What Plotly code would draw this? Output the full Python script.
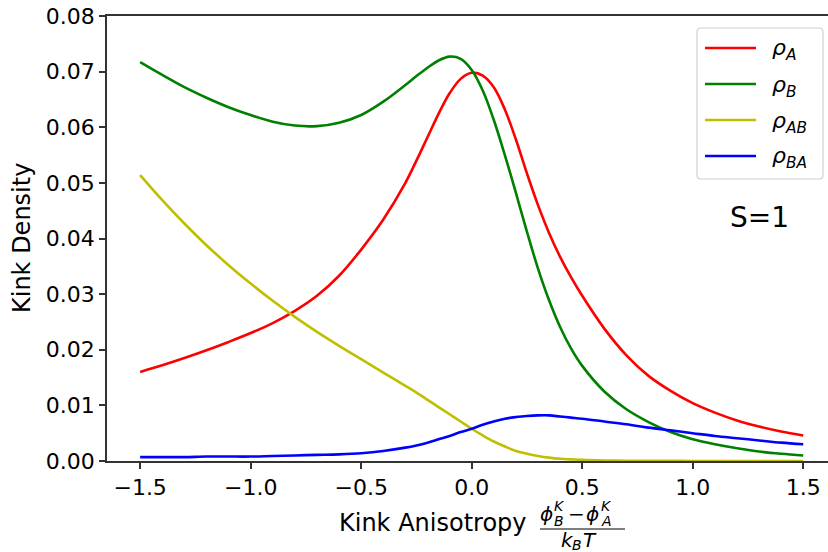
import plotly.graph_objects as go

# Kink anisotropy values (x axis); finer sampling around the peaks
anisotropy = [-1.5, -1.4, -1.3, -1.2, -1.1, -1.0, -0.9, -0.8, -0.7, -0.6, -0.5, -0.4,
              -0.3, -0.25, -0.2, -0.15, -0.1, -0.05, 0.0, 0.05, 0.1, 0.15, 0.2, 0.25,
              0.3, 0.35, 0.4, 0.45, 0.5,
              0.6, 0.7, 0.8, 0.9, 1.0, 1.1, 1.2, 1.3, 1.4, 1.5]

rho_A = [0.0160, 0.0172, 0.0185, 0.0199, 0.0214, 0.0230, 0.0248, 0.0270, 0.0297, 0.0333, 0.0380, 0.0434,
         0.0500, 0.0540, 0.0582, 0.0624, 0.0661, 0.0687, 0.0698, 0.0693, 0.0672, 0.0632, 0.0578, 0.0517,
         0.0460, 0.0410, 0.0367, 0.0330, 0.0297,
         0.0238, 0.0190, 0.0153, 0.0126, 0.0104, 0.0087, 0.0073, 0.0062, 0.0053, 0.0046]

rho_B = [0.0717, 0.0694, 0.0672, 0.0653, 0.0636, 0.0622, 0.0610, 0.0603, 0.0602, 0.0608, 0.0622, 0.0646,
         0.0676, 0.0692, 0.0707, 0.0720, 0.0727, 0.0723, 0.0703, 0.0666, 0.0613, 0.0550, 0.0482, 0.0412,
         0.0346, 0.0289, 0.0241, 0.0202, 0.0171,
         0.0125, 0.0093, 0.0070, 0.0052, 0.0039, 0.0030, 0.0023, 0.0017, 0.0013, 0.0010]

rho_AB = [0.0514, 0.0469, 0.0427, 0.0388, 0.0352, 0.0319, 0.0288, 0.0259, 0.0232, 0.0207, 0.0183, 0.0159,
          0.0135, 0.0123, 0.0110, 0.0097, 0.0084, 0.0071, 0.0058, 0.0046, 0.0035, 0.0026, 0.0018, 0.0013,
          0.0009, 0.0006, 0.0004, 0.0003, 0.0002,
          0.0001, 0.00005, 0.00003, 0.00002, 0.00001, 0.00001, 0.0, 0.0, 0.0, 0.0]

rho_BA = [0.0007, 0.0007, 0.0007, 0.0008, 0.0008, 0.0008, 0.0009, 0.0010, 0.0011, 0.0012, 0.0014, 0.0018,
          0.0024, 0.0028, 0.0033, 0.0039, 0.0045, 0.0052, 0.0058, 0.0065, 0.0071, 0.0076, 0.0079, 0.0081,
          0.0082, 0.0082, 0.0080, 0.0078, 0.0076,
          0.0071, 0.0066, 0.0060, 0.0055, 0.0050, 0.0045, 0.0041, 0.0037, 0.0033, 0.0030]

series_names = ["A", "B", "AB", "BA"]
series_values = [rho_A, rho_B, rho_AB, rho_BA]
series_colors = ["#FF0000", "#008000", "#BFBF00", "#0000FF"]

x_ticks = [-1.5, -1.0, -0.5, 0.0, 0.5, 1.0, 1.5]
y_ticks = [0.00, 0.01, 0.02, 0.03, 0.04, 0.05, 0.06, 0.07, 0.08]

FONT = "DejaVu Sans"
W, H = 828, 552
L, R, T, B = 107, 828, 16, 461


def px(x):
    return (x - L) / (R - L)


def py(y):
    return (B - y) / (B - T)


fig = go.Figure()
for name, vals, col in zip(series_names, series_values, series_colors):
    fig.add_trace(go.Scatter(
        x=anisotropy, y=vals, mode="lines", name="ρ" + name,
        line=dict(color=col, width=2.6, shape="spline", smoothing=1.0),
        showlegend=False,
    ))

annotations = []
shapes = []


def text(s, x, y, size, xanchor="left", yanchor="middle", angle=0):
    annotations.append(dict(
        text=s, x=px(x), y=py(y), xref="paper", yref="paper",
        xanchor=xanchor, yanchor=yanchor, showarrow=False, textangle=angle,
        font=dict(family=FONT, size=size, color="black"), borderpad=0,
    ))


# Axis titles
text("Kink Density", 22, 238, 24, xanchor="center", angle=-90)
text("Kink Anisotropy", 433, 523, 24, xanchor="center")

# Fraction (phi_B^K - phi_A^K) / (k_B T)
text("<i>ϕ</i>", 539, 514, 20)
text("<i>K</i>", 553, 506, 14)
text("<i>B</i>", 553, 521, 14)
text("−", 567, 514, 20)
text("<i>ϕ</i>", 585, 514, 20)
text("<i>K</i>", 600, 506, 14)
text("<i>A</i>", 600, 521, 14)
shapes.append(dict(type="line", xref="paper", yref="paper",
                   x0=px(540), x1=px(625), y0=py(529), y1=py(529),
                   line=dict(color="black", width=1.2)))
text("<i>k</i>", 560, 540, 20)
text("<i>B</i>", 571, 545, 14)
text("<i>T</i>", 582, 540, 20)

# Annotation
text("S=1", 759, 218, 28, xanchor="center")

# Legend box with rounded corners
x0, x1, y0, y1, r = 697, 823, 28, 179, 4
path = (f"M {px(x0 + r)},{py(y0)} L {px(x1 - r)},{py(y0)} "
        f"Q {px(x1)},{py(y0)} {px(x1)},{py(y0 + r)} "
        f"L {px(x1)},{py(y1 - r)} Q {px(x1)},{py(y1)} {px(x1 - r)},{py(y1)} "
        f"L {px(x0 + r)},{py(y1)} Q {px(x0)},{py(y1)} {px(x0)},{py(y1 - r)} "
        f"L {px(x0)},{py(y0 + r)} Q {px(x0)},{py(y0)} {px(x0 + r)},{py(y0)} Z")
shapes.append(dict(type="path", xref="paper", yref="paper", path=path,
                   line=dict(color="#d0d0d0", width=1.2), fillcolor="rgba(255,255,255,0.8)"))

for i, (name, col) in enumerate(zip(series_names, series_colors)):
    yy = 48 + i * 36
    shapes.append(dict(type="line", xref="paper", yref="paper",
                       x0=px(705), x1=px(756), y0=py(yy), y1=py(yy),
                       line=dict(color=col, width=2.6)))
    text(f"<i>ρ<sub>{name}</sub></i>", 771, yy + 2, 22)

fig.update_layout(
    width=W, height=H,
    margin=dict(l=L, r=W - R, t=T, b=H - B),
    plot_bgcolor="white", paper_bgcolor="white",
    font=dict(family=FONT, size=22, color="black"),
    annotations=annotations, shapes=shapes,
    xaxis=dict(
        range=[-1.65, 1.612], tickvals=x_ticks, tickformat=".1f",
        showgrid=False, zeroline=False, showline=True, mirror=True,
        linecolor="#333333", linewidth=1.5,
        ticks="outside", ticklen=6, tickwidth=1.5, tickcolor="#333333",
        tickfont=dict(family=FONT, size=22, color="black"),
    ),
    yaxis=dict(
        range=[0, 0.08], tickvals=y_ticks, tickformat=".2f",
        showgrid=False, zeroline=False, showline=True, mirror=False,
        linecolor="#333333", linewidth=1.5,
        ticks="outside", ticklen=6, tickwidth=1.5, tickcolor="#333333",
        tickfont=dict(family=FONT, size=22, color="black"),
    ),
)

fig.write_html("out.html")
